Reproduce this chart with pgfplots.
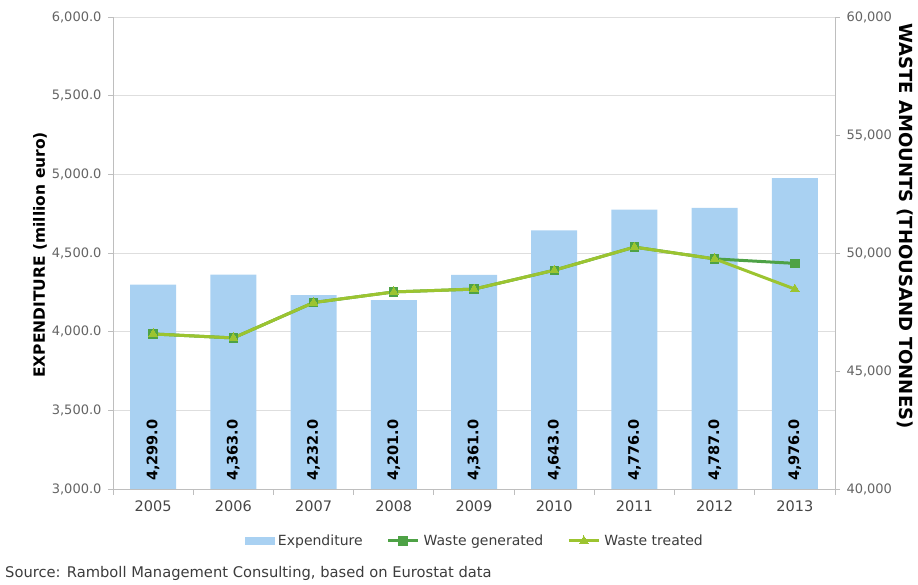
\documentclass[border=0pt]{standalone}
\usepackage{pgfplots}
\pgfplotsset{compat=1.18}
\usepackage{pgfplotstable}
\usepackage{fontspec}
\setmainfont{DejaVu Sans}
\definecolor{barblue}{RGB}{169,209,242}
\definecolor{wgen}{RGB}{78,162,70}
\definecolor{wtreat}{RGB}{156,196,48}
\definecolor{gridgray}{RGB}{222,222,222}
\definecolor{axgray}{RGB}{190,190,190}
\definecolor{ytxt}{RGB}{100,100,100}
\definecolor{xtxt}{RGB}{70,70,70}
\definecolor{srctxt}{RGB}{60,60,60}

\pgfplotstableread{
x year exp gen treat
0 2005 4299 46570 46570
1 2006 4363 46400 46400
2 2007 4232 47900 47900
3 2008 4201 48350 48350
4 2009 4361 48470 48470
5 2010 4643 49270 49270
6 2011 4776 50250 50250
7 2012 4787 49750 49750
8 2013 4976 49560 48470
}\data

\begin{document}
\begin{tikzpicture}
\begin{axis}[
  at={(113pt,96pt)}, anchor=south west,
  scale only axis, width=722pt, height=472pt,
  xmin=-0.5, xmax=8.5, ymin=3000, ymax=6000,
  axis x line*=bottom, axis y line*=left,
  axis line style={draw=axgray, line width=0.8pt, -},
  xtick={0,...,8},
  xticklabels={2005,2006,2007,2008,2009,2010,2011,2012,2013},
  major x tick style={draw=none},
  minor xtick={-0.5,0.5,1.5,2.5,3.5,4.5,5.5,6.5,7.5,8.5},
  minor x tick style={draw=axgray, line width=0.8pt},
  minor tick length=6pt,
  ytick={3000,3500,...,6000},
  major y tick style={draw=axgray, line width=0.8pt},
  major tick length=5pt,
  tick align=outside,
  ymajorgrids, grid style={draw=gridgray, line width=0.8pt},
  /pgf/number format/assume math mode=true,
  y tick label style={font=\fontsize{13}{14}\selectfont, text=ytxt, xshift=-3pt,
    /pgf/number format/.cd, fixed, fixed zerofill, precision=1, 1000 sep={,}},
  x tick label style={font=\fontsize{14.5}{16}\selectfont, text=xtxt, yshift=-3pt},
  scaled y ticks=false,
  ylabel={\bfseries EXPENDITURE (million euro)},
  every axis y label/.style={at={(axis description cs:-0.101,0.496)}, rotate=90, anchor=center,
    font=\fontsize{15.5}{17}\selectfont, text=black},
  clip=false,
]
\addplot[ybar, bar width=46pt, fill=barblue, draw=none] table[x=x, y=exp] {\data};
\addplot[draw=none, nodes near coords={\pgfmathprintnumber[fixed,fixed zerofill,precision=1,1000 sep={,},assume math mode=true]{\pgfplotspointmeta}},
  point meta=explicit,
  every node near coord/.style={rotate=90, anchor=west, inner sep=0pt,
    font=\bfseries\fontsize{14.5}{15}\selectfont, text=black}]
  table[x=x, y expr=3050, meta=exp] {\data};
\end{axis}

\begin{axis}[
  at={(113pt,96pt)}, anchor=south west,
  scale only axis, width=722pt, height=472pt,
  xmin=-0.5, xmax=8.5, ymin=40000, ymax=60000,
  axis x line=none, axis y line*=right,
  axis line style={draw=axgray, line width=0.8pt, -},
  ytick={40000,45000,...,60000},
  major y tick style={draw=axgray, line width=0.8pt},
  major tick length=5pt,
  tick align=outside,
  scaled y ticks=false,
  /pgf/number format/assume math mode=true,
  y tick label style={font=\fontsize{13}{14}\selectfont, text=ytxt, xshift=3pt,
    /pgf/number format/.cd, fixed, precision=0, 1000 sep={,}},
  ylabel={\bfseries WASTE AMOUNTS (THOUSAND TONNES)},
  every axis y label/.style={at={(axis description cs:1.097,0.557)}, rotate=-90, anchor=center,
    font=\fontsize{18}{20}\selectfont, text=black},
  legend style={at={(axis description cs:0.501,-0.110)}, anchor=center, draw=none, fill=none,
    legend columns=3, font=\fontsize{14}{16}\selectfont, text=srctxt,
    /tikz/every even column/.append style={column sep=22pt},
    /tikz/every odd column/.append style={column sep=2pt}},
  legend image code/.code={\draw[mark repeat=2,mark phase=2,#1] plot coordinates {(0pt,0pt) (15pt,0pt) (30pt,0pt)};},
  clip=false,
]
\addlegendimage{legend image code/.code={\fill[barblue] (0pt,-3.5pt) rectangle (29pt,3.5pt);}}
\addlegendentry{Expenditure}
\addplot[color=wgen, line width=3pt, mark=square*, mark size=4.2pt, mark options={line width=0pt, fill=wgen}]
  table[x=x, y=gen] {\data};
\addlegendentry{Waste generated}
\addplot[color=wtreat, line width=3pt, mark=triangle*, mark size=5pt, mark options={line width=0pt, fill=wtreat}]
  table[x=x, y=treat] {\data};
\addlegendentry{Waste treated}
\end{axis}
\node[anchor=base west, inner sep=0pt, font=\fontsize{14.7}{16}\selectfont, text=srctxt] at (5pt,7pt)
  {Source: Ramboll Management Consulting, based on Eurostat data};
\pgfresetboundingbox
\path (0pt,0pt) rectangle (918pt,585pt);
\end{tikzpicture}
\end{document}
